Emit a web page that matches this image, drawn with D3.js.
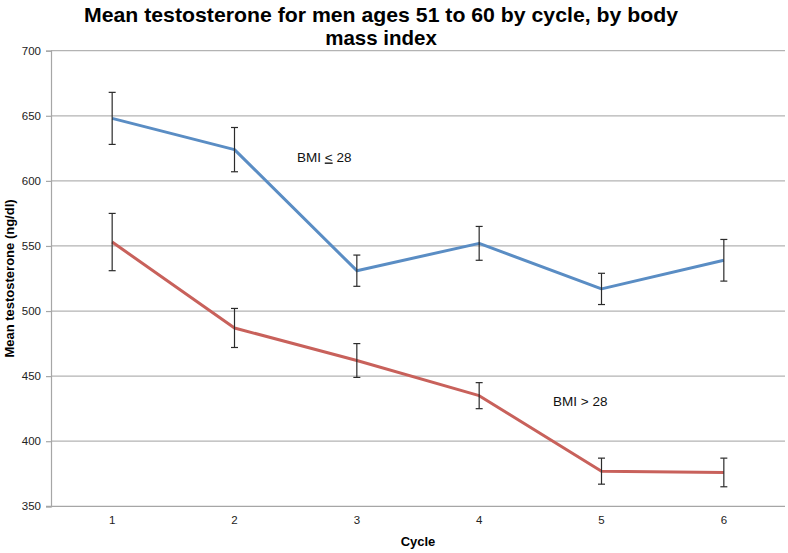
<!DOCTYPE html>
<html>
<head>
<meta charset="utf-8">
<script src="https://cdn.jsdelivr.net/npm/d3@7"></script>
<style>
  html, body { margin: 0; padding: 0; background: #ffffff; }
  svg { display: block; font-family: "Liberation Sans", Arial, Helvetica, sans-serif; }
</style>
</head>
<body>
<svg id="chart" width="788" height="553"></svg>
<script>
// ---- Data ----
const cycles = ["1", "2", "3", "4", "5", "6"];
const bmiLowMean = [648, 624, 531, 552, 517, 539];
const bmiLowErr = [20, 17, 12, 13, 12, 16];
const bmiHighMean = [553, 487, 462, 435, 377, 376];
const bmiHighErr = [22, 15, 13, 10, 10, 11];
const yTicks = [350, 400, 450, 500, 550, 600, 650, 700];
const titleLines = ["Mean testosterone for men ages 51 to 60 by cycle, by body", "mass index"];
const yAxisTitle = "Mean testosterone (ng/dl)";
const xAxisTitle = "Cycle";

// ---- Layout ----
const W = 788, H = 553;
const plot = { left: 51, right: 785, top: 50.7, bottom: 506.3 };

const svg = d3.select("#chart");

const x = d3.scaleBand().domain(cycles).range([plot.left, plot.right]).paddingInner(0).paddingOuter(0);
const y = d3.scaleLinear().domain([350, 700]).range([plot.bottom, plot.top]);
const cx = c => x(c) + x.bandwidth() / 2;

// gridlines
svg.append("g").selectAll("line").data(yTicks.filter(t => t !== 350)).join("line")
  .attr("x1", plot.left).attr("x2", plot.right)
  .attr("y1", d => y(d)).attr("y2", d => y(d))
  .attr("stroke", "#b3b3b3").attr("stroke-width", 1.2);

// y axis
const yAxis = d3.axisLeft(y).tickValues(yTicks).tickSize(5).tickPadding(5).tickFormat(d3.format("d"));
const gy = svg.append("g").attr("transform", `translate(${plot.left},0)`).call(yAxis);
gy.select(".domain").attr("stroke", "#a6a6a6").attr("stroke-width", 1.2);
gy.selectAll(".tick line").attr("stroke", "#a6a6a6").attr("stroke-width", 1.2);
gy.selectAll(".tick text").attr("font-size", "11.5px").attr("fill", "#222")
  .attr("font-family", "'Liberation Sans', Arial, sans-serif");

// x axis
const xAxis = d3.axisBottom(x).tickSize(0).tickPadding(10);
const gx = svg.append("g").attr("transform", `translate(0,${plot.bottom})`).call(xAxis);
gx.select(".domain").attr("stroke", "#a6a6a6").attr("stroke-width", 1.2).attr("d", `M${plot.left - 5},0H${plot.right}`);
gx.selectAll(".tick text").attr("font-size", "11.5px").attr("fill", "#222")
  .attr("font-family", "'Liberation Sans', Arial, sans-serif");

// series
const series = [
  { mean: bmiLowMean, err: bmiLowErr, color: "#5a8dc4" },
  { mean: bmiHighMean, err: bmiHighErr, color: "#c8615b" }
];

const line = d3.line().x((d, i) => cx(cycles[i])).y(d => y(d));

series.forEach(s => {
  svg.append("path").datum(s.mean)
    .attr("d", line)
    .attr("fill", "none")
    .attr("stroke", s.color)
    .attr("stroke-width", 3)
    .attr("stroke-linejoin", "round");
});

// error bars
series.forEach(s => {
  const g = svg.append("g").attr("stroke", "#2b2b2b").attr("stroke-width", 1.2);
  s.mean.forEach((m, i) => {
    const xc = cx(cycles[i]);
    const top = y(m + s.err[i]), bot = y(m - s.err[i]);
    g.append("line").attr("x1", xc).attr("x2", xc).attr("y1", top).attr("y2", bot);
    g.append("line").attr("x1", xc - 3.5).attr("x2", xc + 3.5).attr("y1", top).attr("y2", top);
    g.append("line").attr("x1", xc - 3.5).attr("x2", xc + 3.5).attr("y1", bot).attr("y2", bot);
  });
});

// title (two lines)
svg.append("text")
  .attr("x", 381).attr("y", 22)
  .attr("text-anchor", "middle")
  .attr("font-size", "20.5px")
  .attr("font-weight", "bold")
  .attr("fill", "#000")
  .attr("textLength", 594).attr("lengthAdjust", "spacingAndGlyphs")
  .text(titleLines[0]);
svg.append("text")
  .attr("x", 381).attr("y", 44.5)
  .attr("text-anchor", "middle")
  .attr("font-size", "20.5px")
  .attr("font-weight", "bold")
  .attr("fill", "#000")
  .text(titleLines[1]);

// axis titles
svg.append("text")
  .attr("transform", `translate(14,${(plot.top + plot.bottom) / 2}) rotate(-90)`)
  .attr("text-anchor", "middle")
  .attr("font-size", "13px").attr("font-weight", "bold")
  .text(yAxisTitle);

svg.append("text")
  .attr("x", (plot.left + plot.right) / 2).attr("y", 546)
  .attr("text-anchor", "middle")
  .attr("font-size", "13px").attr("font-weight", "bold")
  .text(xAxisTitle);

// annotations
const a1 = svg.append("text").attr("x", 297).attr("y", 161.5).attr("font-size", "13.5px").attr("fill", "#111");
a1.append("tspan").text("BMI ");
a1.append("tspan").attr("text-decoration", "underline").text("<");
a1.append("tspan").text(" 28");

svg.append("text").attr("x", 553).attr("y", 406).attr("font-size", "13.5px").attr("fill", "#111")
  .text("BMI > 28");
</script>
</body>
</html>
